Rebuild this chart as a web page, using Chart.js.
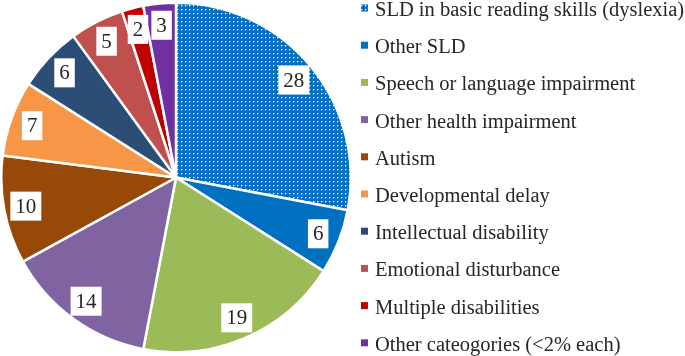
<!DOCTYPE html>
<html>
<head>
<meta charset="utf-8">
<script src="https://cdn.jsdelivr.net/npm/chart.js@4.4.1/dist/chart.umd.min.js"></script>
<style>
  html, body { margin: 0; padding: 0; background: #fff; }
  #wrap { width: 685px; height: 356px; }
  .probe { font-family: "Liberation Serif"; position: absolute; left: -999px; top: 0; }
</style>
</head>
<body>
<span class="probe">28 Autism</span>
<div id="wrap"><canvas id="chart"></canvas></div>
<script>
const categories = [
  'SLD in basic reading skills (dyslexia)',
  'Other SLD',
  'Speech or language impairment',
  'Other health impairment',
  'Autism',
  'Developmental delay',
  'Intellectual disability',
  'Emotional disturbance',
  'Multiple disabilities',
  'Other cateogories (<2% each)'
];
const shares = [28, 6, 19, 14, 10, 7, 6, 5, 2, 3];
const colours = ['#0070C0', '#0070C0', '#9BBB59', '#8064A2', '#984807',
  '#F79646', '#2C4D75', '#C0504D', '#C00000', '#7030A0'];

const serif = '"Liberation Serif", "Times New Roman", Times, serif';
const textColour = '#262626';

// white-dotted blue fill for the dyslexia slice
function dots(base) {
  const tile = document.createElement('canvas');
  tile.width = 4;
  tile.height = 4;
  const c = tile.getContext('2d');
  c.fillStyle = base;
  c.fillRect(0, 0, 4, 4);
  c.fillStyle = '#ffffff';
  c.fillRect(1, 1, 1, 1);
  c.fillStyle = 'rgba(255,255,255,0.35)';
  c.fillRect(2, 1, 1, 1);
  c.fillRect(1, 2, 1, 1);
  return c.createPattern(tile, 'repeat');
}

const fills = colours.map((c, i) => i === 0 ? dots(c) : c);

const boxedValues = {
  id: 'boxedValues',
  afterDatasetsDraw(chart) {
    const ctx = chart.ctx;
    const meta = chart.getDatasetMeta(0);
    ctx.save();
    ctx.font = '21px ' + serif;
    ctx.textAlign = 'center';
    ctx.textBaseline = 'middle';
    meta.data.forEach((arc, i) => {
      const p = arc.getProps(['x', 'y', 'startAngle', 'endAngle', 'outerRadius'], true);
      const mid = (p.startAngle + p.endAngle) / 2;
      const r = p.outerRadius * 0.875;
      const x = p.x + Math.cos(mid) * r;
      const y = p.y + Math.sin(mid) * r;
      const txt = String(shares[i]);
      const w = ctx.measureText(txt).width + 10;
      const h = 29;
      ctx.fillStyle = '#fff';
      ctx.fillRect(x - w / 2, y - h / 2, w, h);
      ctx.fillStyle = textColour;
      ctx.fillText(txt, x, y + 1);
    });
    ctx.restore();
  }
};

const sideLegend = {
  id: 'sideLegend',
  afterDraw(chart) {
    const ctx = chart.ctx;
    ctx.save();
    ctx.font = '20.5px ' + serif;
    ctx.textBaseline = 'alphabetic';
    ctx.textAlign = 'left';
    categories.forEach((label, i) => {
      const base = 16 + i * 37.2;
      ctx.fillStyle = fills[i];
      ctx.fillRect(361, base - 11.5, 7, 7);
      ctx.fillStyle = textColour;
      ctx.fillText(label, 375, base);
    });
    ctx.restore();
  }
};

function draw() {
  new Chart(document.getElementById('chart'), {
    type: 'pie',
    data: {
      labels: categories,
      datasets: [{
        data: shares,
        backgroundColor: fills,
        borderColor: '#fff',
        borderWidth: 2.5
      }]
    },
    options: {
      responsive: true,
      maintainAspectRatio: false,
      animation: false,
      layout: {
        padding: { left: -2, top: -1, bottom: 1, right: 333 }
      },
      plugins: {
        legend: { display: false },
        tooltip: { enabled: false }
      }
    },
    plugins: [boxedValues, sideLegend]
  });
}

Promise.all([
  document.fonts.load('21px "Liberation Serif"'),
  document.fonts.load('20.5px "Liberation Serif"')
]).then(draw, draw);
</script>
</body>
</html>
